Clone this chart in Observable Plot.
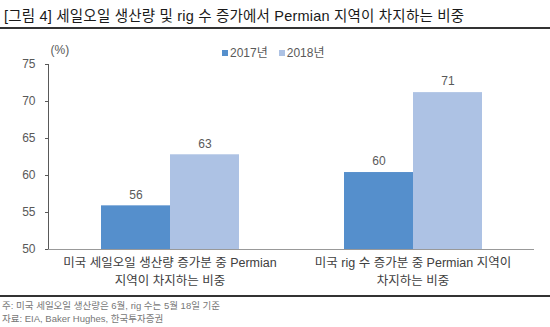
<!DOCTYPE html>
<html><head><meta charset="utf-8">
<script src="https://cdn.jsdelivr.net/npm/d3@7"></script>
<script src="https://cdn.jsdelivr.net/npm/@observablehq/plot@0.6"></script>
<style>
body{margin:0;background:#fff;font-family:"Liberation Sans","Noto Sans CJK KR",sans-serif;}
#wrap{position:relative;width:550px;height:327px;overflow:hidden;}
#title{position:absolute;left:4px;top:4px;font-size:14.5px;color:#1a1a1a;letter-spacing:0.2px;white-space:nowrap;}
#rule1{position:absolute;left:0;top:27px;width:550px;height:2px;background:#333;}
#rule2{position:absolute;left:0;top:295px;width:550px;height:2px;background:#333;}
#chart{position:absolute;left:0;top:30px;}
#legend{position:absolute;left:222px;top:43px;font-size:12px;color:#595959;white-space:nowrap;}
#legend span.sw{display:inline-block;width:6px;height:6px;margin-right:2px;vertical-align:1px;}
#notes{position:absolute;left:2px;top:299px;font-size:9.5px;color:#777;line-height:13px;white-space:nowrap;}
</style></head>
<body><div id="wrap">
<div id="title"></div>
<div id="rule1"></div>
<div id="chart"></div>
<div id="legend"></div>
<div id="rule2"></div>
<div id="notes"></div>
</div>
<script>
const titleText = "[그림 4] 세일오일 생산량 및 rig 수 증가에서 Permian 지역이 차지하는 비중";
const categories = ["미국 세일오일 생산량 증가분 중 Permian\n지역이 차지하는 비중", "미국 rig 수 증가분 중 Permian 지역이\n차지하는 비중"];
const series = ["2017년", "2018년"];
const values2017 = [55.9, 60.4];
const values2018 = [62.8, 71.2];
const yTicks = [50, 55, 60, 65, 70, 75];
const colors = ["#558FCC", "#ADC2E4"];
const notes = ["주: 미국 세일오일 생산량은 6월, rig 수는 5월 18일 기준", "자료: EIA, Baker Hughes, 한국투자증권"];

document.getElementById("title").textContent = titleText;
document.getElementById("notes").innerHTML = notes.join("<br>");
document.getElementById("legend").innerHTML = series.map((s,i)=>`<span class="sw" style="background:${colors[i]}"></span>${s}`).join('<span style="display:inline-block;width:11px"></span>');

const data = [];
categories.forEach((c,i)=>{
  data.push({cat:c, year:series[0], value:values2017[i]});
  data.push({cat:c, year:series[1], value:values2018[i]});
});

const chart = Plot.plot({
  width: 550,
  height: 266,
  marginLeft: 47,
  marginRight: 16,
  marginTop: 34,
  marginBottom: 47,
  style: {fontFamily: '"Liberation Sans","Noto Sans CJK KR",sans-serif', fontSize: "12px", color: "#595959"},
  fx: {domain: categories, padding: 0, label: null, axis: null},
  x: {domain: series, paddingInner: 0, paddingOuter: 0.75, axis: null},
  y: {domain: [50, 75], ticks: yTicks, label: null, line: true, tickSize: 3, tickPadding: 10},
  color: {domain: series, range: colors},
  marks: [
    Plot.barY(data, {fx: "cat", x: "year", y1: 50, y2: "value", fill: "year"}),
    Plot.text(data, {fx: "cat", x: "year", y: "value", text: d => Math.round(d.value), dy: -11, fill: "#595959", fontSize: 12}),
    Plot.ruleY([50], {stroke: "#999"}),
    Plot.axisFx({anchor: "bottom", tickSize: 0, tickPadding: 5, fill: "#404040", fontSize: 12.5, lineHeight: 1.45, label: null, style: {letterSpacing: "0.8px"}}),
    Plot.text([{cat: categories[0]}], {fx: "cat", text: () => "(%)", frameAnchor: "top-left", dx: 2, dy: -19, fill: "#595959", fontSize: 12})
  ]
});
document.getElementById("chart").appendChild(chart);
</script>
</body></html>
